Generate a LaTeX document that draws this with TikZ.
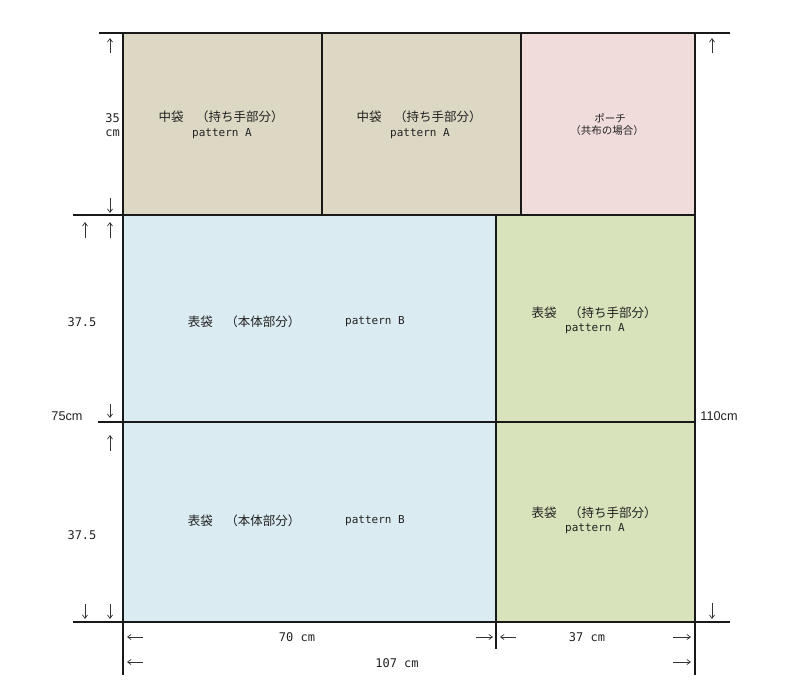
\documentclass[tikz,border=0pt]{standalone}
\usepackage{fontspec}
\setmainfont{Liberation Sans}
\newfontfamily\jp{Noto Sans CJK JP}
\newfontfamily\mono{DejaVu Sans Mono}
\newfontfamily\arial{Liberation Sans}
\usetikzlibrary{arrows.meta}
\definecolor{tan}{HTML}{DDD8C4}
\definecolor{pinkc}{HTML}{F1DCDC}
\definecolor{bluec}{HTML}{DBEBF2}
\definecolor{greenc}{HTML}{D8E3BB}
\definecolor{txt}{HTML}{222222}
\tikzset{
  frame/.style={line width=2pt, black!90},
  arr/.style={line width=0.7pt, black!80, -{Straight Barb[length=3.5pt,width=5pt]}},
  jlabel/.style={font=\jp\fontsize{12.5}{14}\selectfont, text=txt, inner sep=0pt},
  jsmall/.style={font=\jp\fontsize{10.5}{12}\selectfont, text=txt, inner sep=0pt},
  plabel/.style={font=\mono\fontsize{11}{13}\selectfont, text=txt, inner sep=0pt},
  dim/.style={font=\mono\fontsize{12}{14}\selectfont, text=txt, inner sep=0pt},
  adim/.style={font=\arial\fontsize{12.7}{14}\selectfont, text=txt, inner sep=0pt}
}
\begin{document}
\begin{tikzpicture}[x=1pt,y=-1pt]
\useasboundingbox (0,0) rectangle (799,696);
% cells
\fill[tan] (123,33) rectangle (521,215);
\fill[pinkc] (521,33) rectangle (695,215);
\fill[bluec] (123,215) rectangle (496,622);
\fill[greenc] (496,215) rectangle (695,622);
% lines
\draw[frame] (99,33) -- (730,33);
\draw[frame] (73,215) -- (695,215);
\draw[frame] (98,422) -- (695,422);
\draw[frame] (73,622) -- (730,622);
\draw[frame] (123,33) -- (123,675);
\draw[frame] (695,33) -- (695,675);
\draw[frame] (496,215) -- (496,649);
\draw[frame] (322,33) -- (322,215);
\draw[frame] (521,33) -- (521,215);
% cell labels
\node[jlabel] (a1) at (221,117) {中袋　（持ち手部分）};
\node[plabel] (a1p) at (222,134) {pattern A};
\node[jlabel] (a2) at (419,117) {中袋　（持ち手部分）};
\node[plabel] (a2p) at (420,134) {pattern A};
\node[jsmall] (po) at (610,118) {ポーチ};
\node[jsmall] (po2) at (607,131) {（共布の場合）};
\node[jlabel] (b1) at (244,322) {表袋　（本体部分）};
\node[plabel] (b1p) at (375,322) {pattern B};
\node[jlabel] (c1) at (594,313) {表袋　（持ち手部分）};
\node[plabel] (c1p) at (595,329) {pattern A};
\node[jlabel] (b2) at (244,521) {表袋　（本体部分）};
\node[plabel] (b2p) at (375,521) {pattern B};
\node[jlabel] (c2) at (594,513) {表袋　（持ち手部分）};
\node[plabel] (c2p) at (595,529) {pattern A};
% dimension labels
\node[dim, align=right, anchor=east] (d35) at (120,125) {35\\cm};
\node[dim] (d375a) at (82,322) {37.5};
\node[dim] (d375b) at (82,535) {37.5};
\node[adim] (d75) at (67,416) {75cm};
\node[adim] (d110) at (719,416) {110cm};
\node[dim] (d70) at (297,637) {70 cm};
\node[dim] (d37) at (587,637) {37 cm};
\node[dim] (d107) at (397,663) {107 cm};
% vertical arrows
\draw[arr] (110,53) -- (110,38);
\draw[arr] (110,198) -- (110,213);
\draw[arr] (85,238) -- (85,222);
\draw[arr] (110,238) -- (110,222);
\draw[arr] (110,404) -- (110,418);
\draw[arr] (110,451) -- (110,435);
\draw[arr] (85,604) -- (85,619);
\draw[arr] (110,604) -- (110,619);
\draw[arr] (712,53) -- (712,38);
\draw[arr] (712,603) -- (712,619);
% horizontal arrows
\draw[arr] (143,637) -- (127,637);
\draw[arr] (476,637) -- (493,637);
\draw[arr] (516,637) -- (500,637);
\draw[arr] (673,637) -- (691,637);
\draw[arr] (143,662) -- (127,662);
\draw[arr] (673,662) -- (691,662);
\end{tikzpicture}
\end{document}
